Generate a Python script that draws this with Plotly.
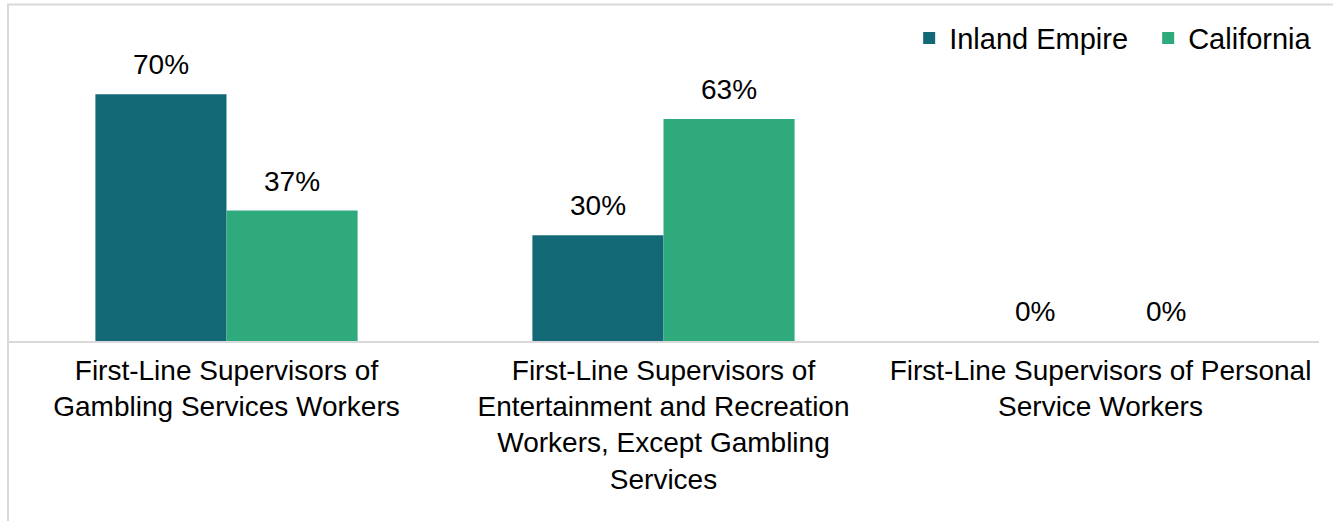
import plotly.graph_objects as go

categories = [
    "First-Line Supervisors of<br>Gambling Services Workers",
    "First-Line Supervisors of<br>Entertainment and Recreation<br>Workers, Except Gambling<br>Services",
    "First-Line Supervisors of Personal<br>Service Workers",
]
inland_empire = [70, 30, 0]
california = [37, 63, 0]
series_names = ["Inland Empire", "California"]
colors = ["#136876", "#2eaa7c"]

FONT = "Liberation Sans, Arial, sans-serif"

fig = go.Figure()
for name, vals, col in zip(series_names, [inland_empire, california], colors):
    fig.add_trace(go.Bar(
        x=categories, y=vals, name=name, marker=dict(color=col, line=dict(width=0)),
    ))

annotations = []
for idx, (vals, shift) in enumerate([(inland_empire, -65.5), (california, 65.5)]):
    for cat, v in zip(categories, vals):
        annotations.append(dict(
            x=cat, y=v, xref="x", yref="y", text=f"{v}%", showarrow=False,
            xshift=shift, yanchor="bottom", yshift=12,
            font=dict(family=FONT, size=28, color="#000000"),
        ))

fig.update_layout(
    width=1333, height=521,
    margin=dict(l=8, r=14, t=59, b=180, pad=0, autoexpand=False),
    paper_bgcolor="white", plot_bgcolor="white",
    barmode="group", bargap=0.4, bargroupgap=0,
    font=dict(family=FONT, size=28, color="#000000"),
    showlegend=True,
    legend=dict(
        orientation="h", x=1.052, xanchor="right", y=1.074, yanchor="middle",
        font=dict(family=FONT, size=29, color="#000000"),
        itemwidth=30, entrywidth=194, bgcolor="rgba(0,0,0,0)", traceorder="normal",
    ),
    xaxis=dict(
        showline=True, linecolor="#d9d9d9", linewidth=2, ticks="",
        showgrid=False, tickfont=dict(family=FONT, size=28, color="#000000"),
        ticklabelstandoff=3, fixedrange=True, automargin=False,
    ),
    yaxis=dict(
        range=[0, 80], showticklabels=False, showgrid=False, zeroline=False,
        showline=False, fixedrange=True,
    ),
    annotations=annotations,
    shapes=[dict(
        type="rect", xref="paper", yref="paper", x0=0, x1=1.2, y0=-1.5, y1=1.193,
        line=dict(color="#d9d9d9", width=2), fillcolor="rgba(0,0,0,0)", layer="below",
    )],
)

fig.write_html("out.html")
